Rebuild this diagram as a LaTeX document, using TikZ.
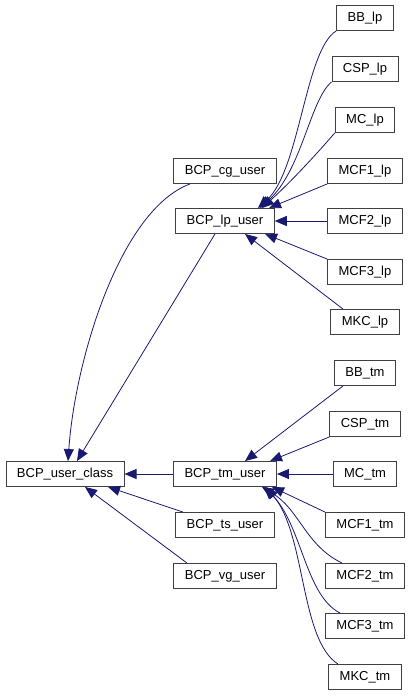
\documentclass[tikz,border=0pt]{standalone}
\usepackage{fontspec}
\setmainfont{Liberation Sans}
\usetikzlibrary{arrows.meta}
\definecolor{edgeblue}{RGB}{25,25,112}
\definecolor{boxline}{RGB}{64,64,64}

\begin{document}
\begin{tikzpicture}[x=1pt, y=-1pt,
  cls/.style={draw=boxline, line width=0.9pt, rectangle, minimum height=25pt, inner xsep=11pt, font=\fontsize{13}{15}\selectfont, fill=white},
  inh/.style={draw=edgeblue, line width=0.8pt, -{Triangle[length=12pt,width=10pt]}}
]
\useasboundingbox (0,0) rectangle (411,696);

% base class
\node[cls] (uclass) at (65,474) {BCP\_user\_class};

% middle layer
\node[cls] (cguser) at (225,171) {BCP\_cg\_user};
\node[cls] (lpuser) at (225,221) {BCP\_lp\_user};
\node[cls] (tmuser) at (225,474) {BCP\_tm\_user};
\node[cls] (tsuser) at (225,525) {BCP\_ts\_user};
\node[cls] (vguser) at (225,576) {BCP\_vg\_user};

% lp classes
\node[cls] (bblp) at (365,18) {BB\_lp};
\node[cls] (csplp) at (365,69) {CSP\_lp};
\node[cls] (mclp) at (365,120) {MC\_lp};
\node[cls] (mcfonelp) at (365,171) {MCF1\_lp};
\node[cls] (mcftwolp) at (365,221) {MCF2\_lp};
\node[cls] (mcfthreelp) at (365,272) {MCF3\_lp};
\node[cls] (mkclp) at (365,322) {MKC\_lp};

% tm classes
\node[cls] (bbtm) at (365,373) {BB\_tm};
\node[cls] (csptm) at (365,424) {CSP\_tm};
\node[cls] (mctm) at (365,474) {MC\_tm};
\node[cls] (mcfonetm) at (365,525) {MCF1\_tm};
\node[cls] (mcftwotm) at (365,576) {MCF2\_tm};
\node[cls] (mcfthreetm) at (365,626) {MCF3\_tm};
\node[cls] (mkctm) at (365,677) {MKC\_tm};

% into BCP_lp_user
\draw[inh] (bblp.south west) .. controls (305,50) and (300,170) .. ([xshift=33pt]lpuser.north);
\draw[inh] (csplp.south west) .. controls (310,100) and (302,170) .. ([xshift=35pt]lpuser.north);
\draw[inh] (mclp.south west) .. controls (320,150) and (295,178) .. ([xshift=37pt]lpuser.north);
\draw[inh] (mcfonelp.south west) -- ([xshift=44pt]lpuser.north);
\draw[inh] (mcftwolp.west) -- (lpuser.east);
\draw[inh] (mcfthreelp.north west) -- ([xshift=40pt]lpuser.south);
\draw[inh] ([xshift=-22pt]mkclp.north) -- ([xshift=20pt]lpuser.south);

% into BCP_tm_user
\draw[inh] ([xshift=-22pt]bbtm.south) -- ([xshift=20pt]tmuser.north);
\draw[inh] (csptm.south west) -- ([xshift=45pt]tmuser.north);
\draw[inh] (mctm.west) -- (tmuser.east);
\draw[inh] (mcfonetm.north west) -- ([xshift=47pt]tmuser.south);
\draw[inh] ([xshift=-23pt]mcftwotm.north) .. controls (305,545) and (300,510) .. ([xshift=37pt]tmuser.south);
\draw[inh] ([xshift=-25pt]mcfthreetm.north) .. controls (305,595) and (302,525) .. ([xshift=39pt]tmuser.south);
\draw[inh] ([xshift=-27pt]mkctm.north) .. controls (300,640) and (306,535) .. ([xshift=41pt]tmuser.south);

% into BCP_user_class
\draw[inh] ([xshift=-35pt]cguser.south) .. controls (120,210) and (75,360) .. ([xshift=3pt]uclass.north);
\draw[inh] ([xshift=-10pt]lpuser.south) -- ([xshift=12pt]uclass.north);
\draw[inh] (tmuser.west) -- (uclass.east);
\draw[inh] ([xshift=-42pt]tsuser.north) -- ([xshift=43pt]uclass.south);
\draw[inh] ([xshift=-38pt]vguser.north) -- ([xshift=20pt]uclass.south);
\end{tikzpicture}
\end{document}
